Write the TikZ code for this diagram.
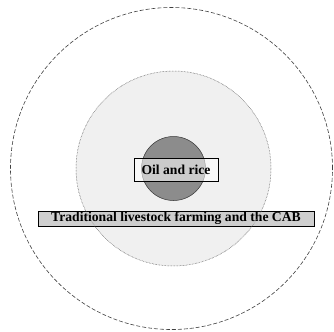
\documentclass[tikz,border=0pt]{standalone}
\usepackage{fontspec}
\setmainfont{Liberation Serif}
\tikzset{
  outerring/.style={draw=black!75, dashed, dash pattern=on 4pt off 2pt, line width=0.6pt},
  midring/.style={draw=black!45, densely dotted, line width=0.5pt, fill=black!6},
  corering/.style={draw=black!80, line width=0.5pt, fill=black!45},
  labelbox/.style={draw=black, line width=1pt, font=\bfseries\fontsize{13.7}{15}\selectfont, inner sep=0pt},
}
\begin{document}
\begin{tikzpicture}[x=1bp,y=-1bp]
  \useasboundingbox (0,0) rectangle (334,332);
  \fill[white] (0,0) rectangle (334,332);
  % concentric rings
  \node[outerring, circle, minimum size=322bp, inner sep=0pt] (outer) at (171.5,168.5) {};
  \node[midring, circle, minimum size=195bp, inner sep=0pt] (mid) at (173.5,168.5) {};
  \node[corering, circle, minimum size=64bp, inner sep=0pt] (core) at (173.5,168.5) {};
  % labels
  \node[labelbox, fill=white, fill opacity=0.55, text opacity=1, minimum width=84bp, minimum height=23bp] (oil) at (176,169.5) {Oil and rice};
  \node[labelbox, fill=black!22, fill opacity=0.85, text opacity=1, minimum width=276bp, minimum height=15bp] (trad) at (176,218.5) {Traditional livestock farming and the CAB};
  % ring edge showing through the lower label
  \draw[draw=black!45, densely dotted, line width=0.5pt] (mid.center) circle[radius=97.5bp];
\end{tikzpicture}
\end{document}
